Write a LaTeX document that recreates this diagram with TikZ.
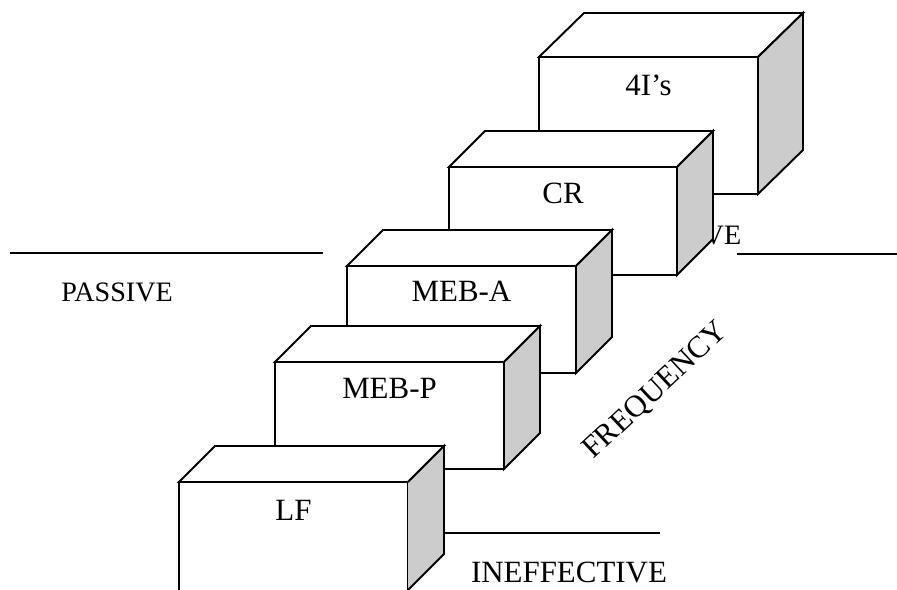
\documentclass[tikz,border=0pt]{standalone}
\usepackage{fontspec}
\setmainfont{Liberation Serif}
\tikzset{
  face/.style={draw, fill=white, line width=1.1pt},
  sideface/.style={draw, fill=gray!40, line width=1.1pt},
  boxlabel/.style={font=\fontsize{17.6}{20}\selectfont},
  axislabel/.style={font=\fontsize{16}{19}\selectfont}
}
\begin{document}
\begin{tikzpicture}[x=0.02cm, y=-0.02cm, line width=1.1pt]
  \clip (0,0) rectangle (897,589);
  % levels
  \draw (10,253) -- (323,253);
  \draw (737,254) -- (897,254);
  \node[axislabel] (passive) at (117,292) {PASSIVE};
  \node[axislabel, anchor=east] (active) at (748,235) {ACTIVE};
  % 4I's
  \begin{scope}[shift={(539,57)}]
    \draw[face] (0,0) rectangle (219,137);
    \draw[face] (0,0) -- (45,-44) -- (264,-44) -- (219,0) -- cycle;
    \draw[sideface] (219,0) -- (264,-44) -- (264,93) -- (219,137) -- cycle;
    \node[boxlabel] (fouri) at (109.5,28) {4I’s};
  \end{scope}
  % CR
  \begin{scope}[shift={(449,167)}]
    \draw[face] (0,0) rectangle (228,108);
    \draw[face] (0,0) -- (36,-36) -- (264,-36) -- (228,0) -- cycle;
    \draw[sideface] (228,0) -- (264,-36) -- (264,72) -- (228,108) -- cycle;
    \node[boxlabel] (cr) at (114,26) {CR};
  \end{scope}
  % MEB-A
  \begin{scope}[shift={(347,266)}]
    \draw[face] (0,0) rectangle (229,107);
    \draw[face] (0,0) -- (36,-36) -- (265,-36) -- (229,0) -- cycle;
    \draw[sideface] (229,0) -- (265,-36) -- (265,71) -- (229,107) -- cycle;
    \node[boxlabel] (meba) at (114.5,25) {MEB-A};
  \end{scope}
  % MEB-P
  \begin{scope}[shift={(275,362)}]
    \draw[face] (0,0) rectangle (229,107);
    \draw[face] (0,0) -- (36,-36) -- (265,-36) -- (229,0) -- cycle;
    \draw[sideface] (229,0) -- (265,-36) -- (265,71) -- (229,107) -- cycle;
    \node[boxlabel] (mebp) at (114.5,26) {MEB-P};
  \end{scope}
  \draw (430,533) -- (660,533);
  % LF
  \begin{scope}[shift={(179,482)}]
    \draw[face] (0,0) rectangle (229,130);
    \draw[face] (0,0) -- (36,-36) -- (265,-36) -- (229,0) -- cycle;
    \draw[sideface] (229,0) -- (265,-36) -- (265,72) -- (229,108) -- (229,130);
    \node[boxlabel] (lf) at (114.5,28) {LF};
  \end{scope}
  \node[boxlabel] (ineff) at (569,572) {INEFFECTIVE};
  \node[boxlabel, rotate=43] (freq) at (656,391) {FREQUENCY};
\end{tikzpicture}
\end{document}
